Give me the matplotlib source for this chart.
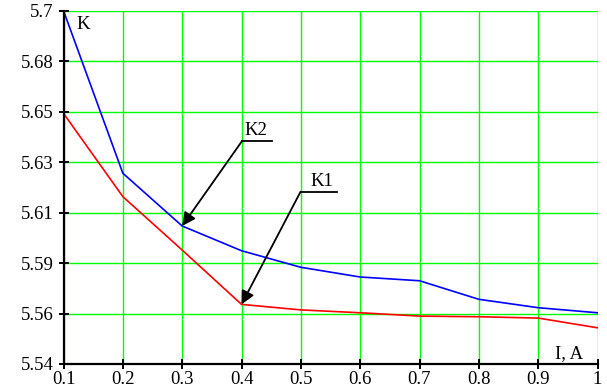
import numpy as np
import matplotlib
matplotlib.use('Agg')
import matplotlib.pyplot as plt

# data
current = [0.1, 0.2, 0.3, 0.4, 0.5, 0.6, 0.7, 0.8, 0.9, 1.0]
k2 = [5.700, 5.6264, 5.6025, 5.5913, 5.5838, 5.5794, 5.5777, 5.5693, 5.5655, 5.5632]
k1 = [5.6535, 5.6158, 5.5916, 5.5670, 5.5645, 5.5632, 5.5617, 5.5614, 5.5608, 5.5564]

x_ticks = [0.1, 0.2, 0.3, 0.4, 0.5, 0.6, 0.7, 0.8, 0.9, 1.0]
x_labels = ['0.1', '0.2', '0.3', '0.4', '0.5', '0.6', '0.7', '0.8', '0.9', '1']
y_ticks = np.linspace(5.54, 5.7, 8)
y_labels = ['5.54', '5.56', '5.59', '5.61', '5.63', '5.65', '5.68', '5.7']

plt.rcParams['font.family'] = ['Liberation Serif', 'DejaVu Serif']
fs = 13.5

fig = plt.figure(figsize=(6.07, 3.88), dpi=100)
W, H = 607, 388
ax = fig.add_axes([63.5 / W, 1 - 364 / H, (597.5 - 63.5) / W, (364 - 10.7) / H])

ax.plot(current, k2, color='#0000ff', lw=1.2, zorder=3)
ax.plot(current, k1, color='#ff0000', lw=1.2, zorder=3)

ax.set_xlim(0.1, 1.0)
ax.set_ylim(5.54, 5.7)
ax.set_xticks(x_ticks)
ax.set_xticklabels(x_labels, fontsize=fs)
ax.set_yticks(y_ticks)
ax.set_yticklabels(y_labels, fontsize=fs)

ax.grid(True, color='#00ff00', lw=1.0)
ax.set_axisbelow(True)
ax.tick_params(direction='inout', length=6.5, width=1.4, color='black')
ax.tick_params(axis='y', pad=4)
ax.tick_params(axis='x', pad=1.5)

for s in ['top', 'right']:
    ax.spines[s].set_visible(False)
for s in ['left', 'bottom']:
    ax.spines[s].set_linewidth(1.6)
    ax.spines[s].set_zorder(4)

# axis names inside the plot
ax.text(0.121, 5.6977, 'K', fontsize=fs, va='top', ha='left')
ax.text(0.976, 5.5427, 'I, A', fontsize=fs, va='baseline', ha='right')

# curve labels with leader lines and arrows
arrow = dict(arrowstyle='-|>', mutation_scale=20, lw=1.3, color='black',
             shrinkA=0, shrinkB=0)
ax.plot([0.401, 0.452], [5.641, 5.641], color='black', lw=1.3, zorder=5)
ax.annotate('', xy=(0.3, 5.6025), xytext=(0.401, 5.641), arrowprops=arrow, zorder=5)
ax.text(0.405, 5.6437, 'K2', fontsize=fs, va='baseline', ha='left')

ax.plot([0.4995, 0.5615], [5.618, 5.618], color='black', lw=1.3, zorder=5)
ax.annotate('', xy=(0.4, 5.567), xytext=(0.4995, 5.618), arrowprops=arrow, zorder=5)
ax.text(0.516, 5.6206, 'K1', fontsize=fs, va='baseline', ha='left')

fig.savefig('out.png', dpi=100)
